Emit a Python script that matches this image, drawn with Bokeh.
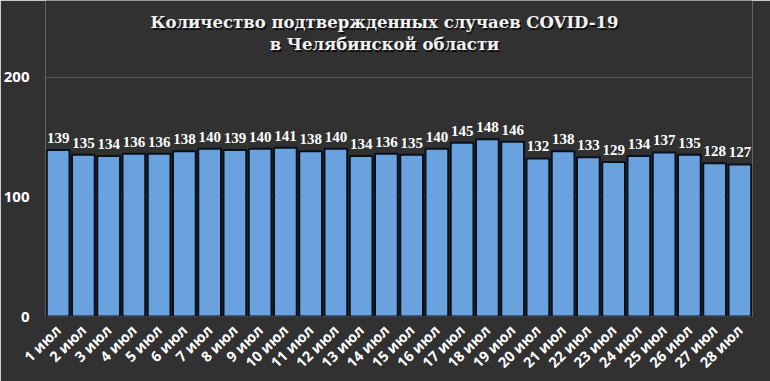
from bokeh.plotting import figure
from bokeh.models import ColumnDataSource, FactorRange, Range1d, FixedTicker, Label, LabelSet
from bokeh.embed import file_html
from bokeh.resources import INLINE

days = [f"{i} июл" for i in range(1, 29)]
cases = [139, 135, 134, 136, 136, 138, 140, 139, 140, 141, 138, 140, 134, 136,
         135, 140, 145, 148, 146, 132, 138, 133, 129, 134, 137, 135, 128, 127]
y_ticks = [0, 100, 200]
title_lines = ["Количество подтвержденных случаев COVID-19", "в Челябинской области"]

bg = "#313131"
font = "Open Sans"
src = ColumnDataSource(dict(day=days, cases=cases, lbl=[str(v) for v in cases]))

p = figure(width=770, height=381, x_range=FactorRange(*days, range_padding=0),
           y_range=Range1d(0, 263.9), output_backend="svg", toolbar_location=None,
           min_border_left=45, min_border_right=18, min_border_top=0, min_border_bottom=63)
p.background_fill_color = bg
p.border_fill_color = bg
p.outline_line_color = None

p.vbar(x="day", top="cases", width=0.9, source=src, fill_color="#6aa2e0",
       line_color="#0a0f1a", line_width=2)

labels = LabelSet(x="day", y="cases", text="lbl", source=src, text_align="center",
                  text_baseline="bottom", y_offset=7, text_color="white",
                  text_font=font, text_font_style="bold", text_font_size="15px")
p.add_layout(labels)

p.xgrid.grid_line_color = None
p.ygrid.ticker = FixedTicker(ticks=y_ticks)
p.ygrid.grid_line_color = "#5a5a5a"
p.ygrid.grid_line_width = 1

p.yaxis.ticker = FixedTicker(ticks=y_ticks)
p.yaxis.axis_line_color = None
p.yaxis.major_tick_line_color = None
p.yaxis.minor_tick_line_color = None
p.yaxis.major_label_text_color = "white"
p.yaxis.major_label_text_font = font
p.yaxis.major_label_text_font_style = "bold"
p.yaxis.major_label_text_font_size = "15px"
p.yaxis.major_label_standoff = 10

p.xaxis.axis_line_color = None
p.xaxis.major_tick_line_color = None
p.xaxis.minor_tick_line_color = None
p.xaxis.major_label_orientation = 0.785
p.xaxis.major_label_text_color = "white"
p.xaxis.major_label_text_font = font
p.xaxis.major_label_text_font_style = "bold"
p.xaxis.major_label_text_font_size = "14.5px"
p.xaxis.major_label_standoff = 5

for i, (txt, yy) in enumerate(zip(title_lines, [294, 272])):
    for dx, dy, col, a in [(1.5, -1.5, "black", 0.7), (0, 0, "#f2f2f2", 1.0)]:
        p.add_layout(Label(x=339 + dx, y=yy + dy, x_units="screen", y_units="screen",
                           text=txt, text_align="center", text_baseline="middle",
                           text_color=col, text_alpha=a, text_font="DejaVu Serif",
                           text_font_style="bold", text_font_size="16.5px"))

open("out.html", "w").write(file_html(p, INLINE))
